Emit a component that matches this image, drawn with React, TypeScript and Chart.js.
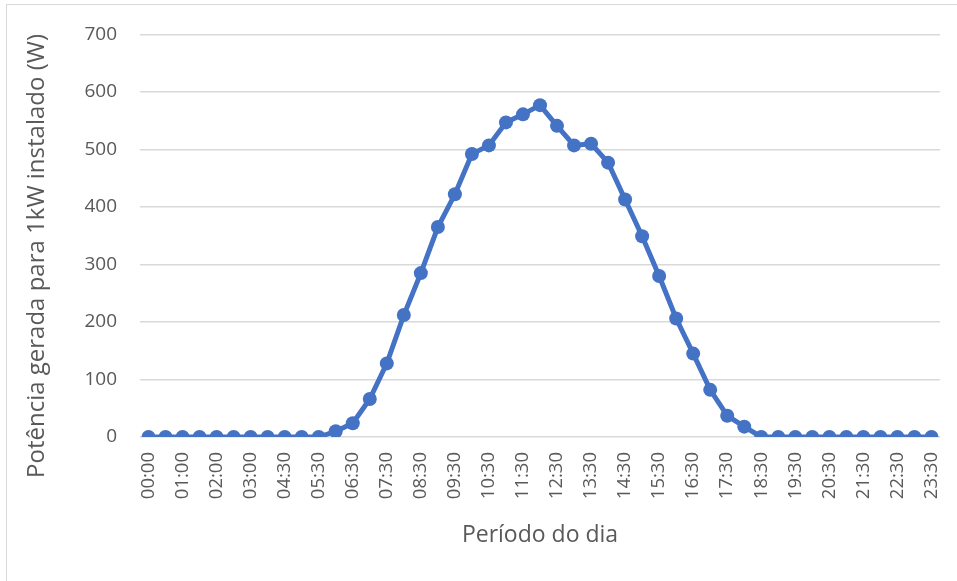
import React, { useEffect, useRef } from "react";
import { Chart, registerables } from "chart.js";

Chart.register(...registerables);

const categories: string[] = [
  "00:00", "00:30", "01:00", "01:30", "02:00", "02:30", "03:00", "03:30",
  "04:30", "05:00", "05:30", "06:00", "06:30", "07:00", "07:30", "08:00",
  "08:30", "09:00", "09:30", "10:00", "10:30", "11:00", "11:30", "12:00",
  "12:30", "13:00", "13:30", "14:00", "14:30", "15:00", "15:30", "16:00",
  "16:30", "17:00", "17:30", "18:00", "18:30", "19:00", "19:30", "20:00",
  "20:30", "21:00", "21:30", "22:00", "22:30", "23:00", "23:30",
];

const potencia: number[] = [
  0, 0, 0, 0, 0, 0, 0, 0, 0, 0, 0,
  10, 24, 66, 128, 212, 285, 365, 422, 492, 507, 547, 561, 577,
  541, 507, 510, 477, 413, 349, 280, 206, 145, 82, 37, 18,
  0, 0, 0, 0, 0, 0, 0, 0, 0, 0, 0,
];

const yTitle = "Potência gerada para 1kW instalado (W)";
const xTitle = "Período do dia";
const yMin = 0;
const yMax = 700;
const yStep = 100;

const FONT = "'Open Sans', 'Noto Sans', sans-serif";
const TEXT = "#595959";
const GRID = "#d9d9d9";
const BLUE = "#4472C4";

const yTitlePlugin = {
  id: "yTitlePlugin",
  afterDraw(chart: any) {
    const ctx = chart.ctx;
    ctx.save();
    ctx.translate(37, 256);
    ctx.rotate(-Math.PI / 2);
    ctx.fillStyle = TEXT;
    ctx.font = `24px ${FONT}`;
    ctx.textAlign = "center";
    ctx.textBaseline = "middle";
    ctx.fillText(yTitle, 0, 0);
    ctx.restore();
  },
};

export default function App() {
  const ref = useRef<HTMLCanvasElement | null>(null);

  useEffect(() => {
    if (!ref.current) return;
    const chart = new Chart(ref.current, {
      type: "line",
      data: {
        labels: categories,
        datasets: [
          {
            data: potencia,
            borderColor: BLUE,
            backgroundColor: BLUE,
            borderWidth: 5,
            pointRadius: 7,
            pointBorderWidth: 0,
            pointBackgroundColor: BLUE,
            tension: 0,
          },
        ],
      },
      plugins: [yTitlePlugin],
      options: {
        responsive: false,
        animation: false,
        layout: { padding: { left: 8, right: 17, top: 34, bottom: 0 } },
        plugins: { legend: { display: false }, tooltip: { enabled: false } },
        scales: {
          x: {
            type: "category",
            offset: true,
            grid: { display: false, drawTicks: false },
            border: { display: false },
            ticks: {
              autoSkip: false,
              maxRotation: 90,
              minRotation: 90,
              padding: 15,
              color: TEXT,
              font: { family: FONT, size: 18.5 },
              callback: (_v: any, i: number) => (i % 2 === 0 ? categories[i] : ""),
            },
            title: {
              display: true,
              text: xTitle,
              color: TEXT,
              font: { family: FONT, size: 23 },
              padding: { top: 0, bottom: 32 },
            },
            afterFit: (s: any) => {
              s.height = 581 - 437;
              s.paddingLeft = 0;
              s.paddingRight = 0;
            },
          },
          y: {
            min: yMin,
            max: yMax,
            grid: { color: GRID, lineWidth: 1.5, drawTicks: false },
            border: { display: false },
            ticks: {
              stepSize: yStep,
              padding: 23,
              color: TEXT,
              font: { family: FONT, size: 19 },
            },
            title: { display: false },
            afterFit: (s: any) => {
              s.width = 140 - 8;
            },
          },
        },
      },
    });
    return () => chart.destroy();
  }, []);

  return (
    <>
      <div
        style={{
          position: "absolute",
          left: 6,
          top: 4,
          width: 951,
          height: 577,
          borderTop: "1px solid #d9d9d9",
          borderLeft: "1px solid #d9d9d9",
          boxSizing: "border-box",
        }}
      />
      <div style={{ position: "absolute", left: 0, top: 0, width: 957, height: 581 }}>
        <canvas ref={ref} width={957} height={581} style={{ display: "block" }} />
      </div>
    </>
  );
}
